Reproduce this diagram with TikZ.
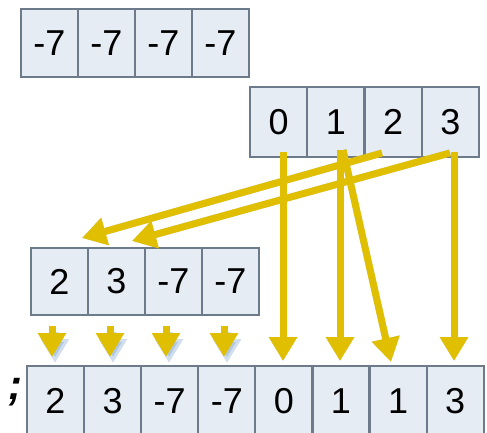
\documentclass[tikz,border=0pt]{standalone}
\usepackage{fontspec}
\setmainfont{Liberation Sans}
\usetikzlibrary{arrows.meta}
\definecolor{cellfill}{RGB}{230,236,244}
\definecolor{cellline}{RGB}{108,122,138}
\definecolor{gold}{RGB}{224,190,0}
\definecolor{shade}{RGB}{120,160,205}
\tikzset{
  cell/.style={draw=cellline, line width=2.2pt, fill=cellfill, inner sep=0pt,
    minimum width=57pt, font=\fontsize{36}{36}\selectfont},
  arr/.style={draw=gold, line width=7pt,
    -{Triangle[width=27pt,length=24pt]}},
  shadowarr/.style={draw=shade, opacity=0.35, line width=7pt,
    -{Triangle[width=27pt,length=24pt]}},
}
\begin{document}
\begin{tikzpicture}[x=1pt,y=-1pt]
\useasboundingbox (0,0) rectangle (487,433);
% top row
\foreach \i/\x in {0/49.5,1/106.5,2/163.5,3/220.5}
  \node[cell, minimum height=68pt] (a\i) at (\x,43) {-7};
% index row
\foreach \i/\x/\t in {0/278.6/0,1/335.9/1,2/393.2/2,3/450.5/3}
  \node[cell, minimum width=57.3pt, minimum height=70pt] (i\i) at (\x,122) {\t};
% third row
\foreach \i/\x/\t in {0/59.5/2,1/116.5/3,2/173.5/-7,3/230.5/-7}
  \node[cell, minimum height=67pt] (t\i) at (\x,281.5) {\t};
% bottom row
\foreach \i/\t in {0/2,1/3,2/-7,3/-7,4/0,5/1,6/1,7/3}
  \node[cell, minimum width=57.1pt, minimum height=70pt] (b\i) at ({55.5+57.1*\i},401) {\t};
\node[font=\fontsize{42}{42}\selectfont\bfseries\itshape] (semi) at (15,392) {;};
% helper coordinates
\coordinate (s0) at (283,152);
\coordinate (e0) at (283,361);
\coordinate (s1) at (340,150);
\coordinate (e1) at (340,361);
\coordinate (s1b) at (343,150);
\coordinate (e1b) at (391,362);
\coordinate (s3) at (454,152);
\coordinate (e3) at (454,361);
\coordinate (s2d) at (382,153);
\coordinate (e2d) at (82,238);
\coordinate (s3d) at (450,153);
\coordinate (e3d) at (132,241);
% shadows
\begin{scope}[shift={(3,6)}]
  \draw[shadowarr] (s2d) -- (e2d);
  \draw[shadowarr] (s3d) -- (e3d);
  \draw[shadowarr] (s1b) -- (e1b);
  \foreach \x in {52,110,166,224} \draw[shadowarr] (\x,326) -- (\x,357);
  \draw[shadowarr] (s0) -- (e0);
  \draw[shadowarr] (s1) -- (e1);
  \draw[shadowarr] (s3) -- (e3);
\end{scope}
% arrows
\draw[arr] (s0) -- (e0);
\draw[arr] (s1) -- (e1);
\draw[arr] (s1b) -- (e1b);
\draw[arr] (s3) -- (e3);
\draw[arr] (s2d) -- (e2d);
\draw[arr] (s3d) -- (e3d);
\foreach \x/\i in {52/0,110/1,166/2,224/3}
  \draw[arr] (\x,326) -- (\x,357);
\end{tikzpicture}
\end{document}
